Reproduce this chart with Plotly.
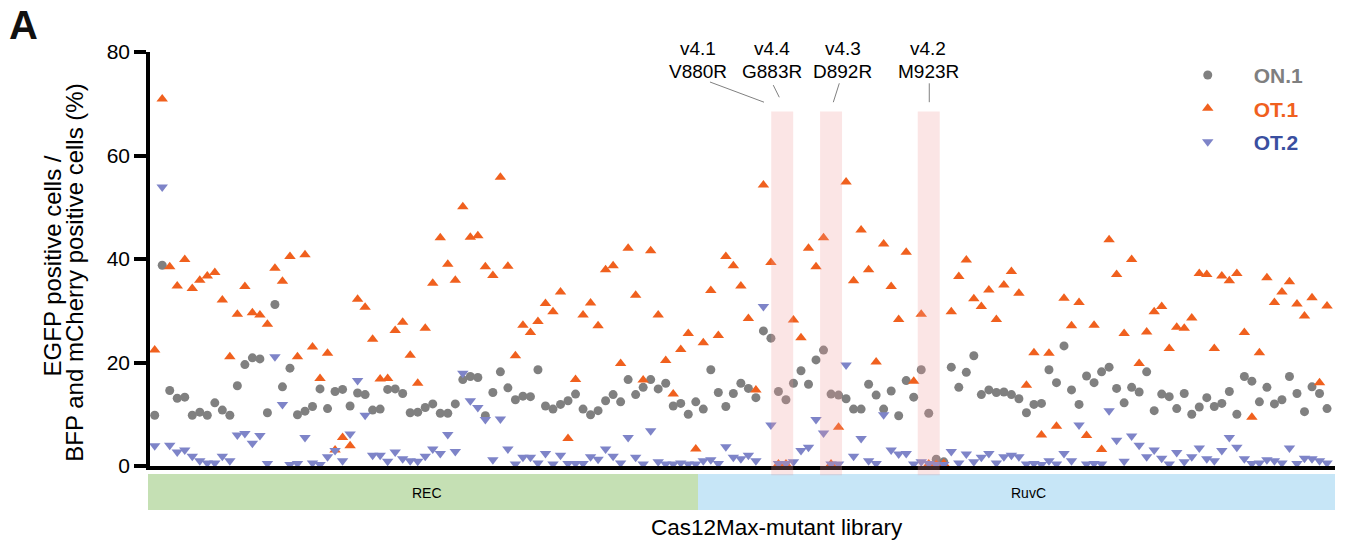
import plotly.graph_objects as go

# Editing efficiency per Cas12Max variant (percent), in library order
on1 = [9.8, 38.8, 14.6, 13.1, 13.3, 9.8, 10.4, 9.8, 12.2, 10.8, 9.8, 15.5, 19.6, 20.9, 20.7, 10.3,
       31.2, 15.3, 18.9, 9.9, 10.6, 11.5, 14.9, 11.1, 14.4, 14.8, 11.6, 14.1, 13.8, 10.8, 11.0, 14.8,
       14.9, 14.0, 10.3, 10.4,
       11.3, 12.0, 10.2, 10.2, 12.0, 16.7, 17.3, 17.1, 9.7, 14.2, 18.2, 15.1, 12.8, 13.5, 13.4, 18.6,
       11.6, 11.0, 11.9, 12.6, 13.9, 11.0, 9.9, 10.7, 12.6, 13.8, 12.4, 16.7, 13.8, 15.2, 16.7, 14.9,
       16.0, 11.6, 12.1, 10.0, 12.4, 11.0, 18.6,
       14.2, 11.5, 14.0, 16.0, 15.0, 13.2, 26.1, 24.7, 14.4, 12.8, 16.0, 18.4, 15.8, 20.5, 22.4, 13.9,
       13.7, 13.0, 11.0, 11.0, 15.8, 13.7, 11.0, 14.5, 9.7, 16.5, 13.3, 18.6, 10.2, 1.3, 0.8, 19.1,
       15.2, 18.1, 21.3, 13.8, 14.7, 14.2, 14.3, 13.8, 13.0,
       10.3, 11.9, 12.1, 18.6, 16.1, 23.2, 14.7, 11.9, 17.4, 16.1, 18.2, 19.1, 15.0, 12.2, 15.2, 14.3,
       18.2, 10.7, 13.9, 13.4, 11.1, 14.0, 10.0, 11.4, 13.2, 11.5, 12.1, 14.4, 10.0, 17.3, 16.4, 12.4,
       15.2, 12.0, 12.8, 17.3, 14.0, 10.5, 15.3, 14.0, 11.1]

ot1 = [22.4, 70.9, 38.5, 34.8, 39.9, 34.3, 35.9, 36.7, 37.4, 32.1, 21.1, 29.3, 34.7, 29.6, 29.2, 27.4,
       38.2, 35.7, 40.5, 21.1, 40.8, 23.0, 16.9, 21.8, 3.1, 5.5, 3.9, 32.2, 30.7, 24.5, 16.8, 16.9,
       26.2, 27.8, 21.4, 16.0,
       26.6, 35.3, 44.1, 39.0, 35.9, 50.1, 44.2, 44.5, 38.5, 36.8, 55.8, 38.6, 21.3, 27.2, 25.8, 27.9,
       31.4, 29.8, 33.6, 5.3, 16.7, 29.2, 31.5, 27.1, 37.9, 38.7, 19.8, 42.1, 33.0, 16.6, 41.6, 29.2,
       20.4, 13.9, 22.5, 25.6, 3.3, 23.8, 33.9,
       25.2, 40.5, 38.7, 34.8, 28.5, 14.7, 54.3, 39.3, 0.4, 0.4, 28.2, 24.8, 42.1, 38.5, 44.1, 0.4,
       7.5, 54.9, 35.8, 45.6, 37.9, 20.1, 42.9, 34.7, 28.3, 41.3, 16.4, 29.3, 0.4, 0.3, 0.5, 29.8,
       36.6, 39.8, 32.3, 30.8, 34.0, 28.3, 35.0, 37.6, 33.4,
       15.6, 21.9, 6.0, 21.8, 7.7, 32.4, 27.1, 31.6, 5.9, 27.2, 3.2, 43.7, 37.0, 25.6, 39.9, 19.8,
       25.9, 29.8, 30.8, 22.7, 26.8, 26.6, 28.6, 37.2, 37.0, 22.7, 36.7, 35.8, 37.2, 25.8, 9.4, 21.9,
       36.4, 31.6, 33.6, 35.6, 31.3, 29.0, 32.5, 16.1, 30.9]

ot2 = [3.9, 53.9, 4.0, 2.7, 3.1, 1.9, 1.0, 0.6, 0.6, 1.9, 1.0, 6.0, 6.3, 4.4, 5.9, 0.5,
       21.1, 11.9, 0.3, 0.5, 5.5, 0.6, 0.3, 1.8, 3.0, 1.0, 6.2, 16.5, 9.8, 2.1, 2.1, 0.9,
       2.7, 1.4, 1.0, 0.9,
       1.9, 3.3, 2.4, 6.1, 2.8, 17.9, 12.6, 11.3, 9.0, 1.2, 9.1, 3.3, 0.4, 1.7, 1.7, 0.6,
       2.4, 0.4, 2.1, 0.5, 0.5, 0.5, 1.8, 1.3, 3.3, 1.9, 0.6, 5.5, 1.7, 0.4, 6.8, 0.8,
       0.4, 0.4, 0.6, 0.4, 0.4, 1.0, 1.2,
       0.5, 3.7, 1.7, 1.4, 2.1, 1.0, 30.8, 7.9, 0.5, 0.5, 0.8, 3.0, 3.6, 9.0, 6.4, 0.4,
       0.4, 19.5, 1.9, 5.3, 1.0, 0.5, 9.9, 3.1, 2.3, 2.4, 0.4, 0.8, 0.5, 0.3, 0.3, 2.8,
       0.6, 2.3, 0.8, 1.7, 2.4, 0.6, 1.8, 2.1, 1.8,
       0.4, 0.5, 0.3, 1.0, 0.4, 2.4, 1.0, 7.9, 0.4, 0.5, 0.4, 10.7, 5.0, 0.9, 5.8, 4.0,
       1.8, 3.1, 1.5, 0.4, 2.6, 0.8, 1.8, 3.5, 1.4, 1.0, 3.0, 5.5, 3.6, 1.4, 0.5, 0.6,
       1.2, 1.0, 0.6, 3.5, 0.5, 1.5, 1.4, 1.0, 0.6]

variants = ["v4.1", "v4.4", "v4.3", "v4.2"]
mutations = ["V880R", "G883R", "D892R", "M923R"]
domains = ["REC", "RuvC"]
y_ticks = [0, 20, 40, 60, 80]

FONT = "Arial, 'Liberation Sans', Helvetica, sans-serif"
GRAY, ORANGE, BLUE = "#808080", "#F0601E", "#7E84C8"
LEG_GRAY, LEG_ORANGE, LEG_BLUE = "#7F7F7F", "#F0601E", "#3A4FA0"

positions = list(range(len(on1)))

fig = go.Figure()
series = [
    ("ON.1", on1, "circle", GRAY, LEG_GRAY, 9),
    ("OT.1", ot1, "triangle-up", ORANGE, LEG_ORANGE, 10),
    ("OT.2", ot2, "triangle-down", BLUE, LEG_BLUE, 10),
]
for name, vals, sym, col, lcol, size in series:
    fig.add_trace(go.Scatter(
        x=positions, y=vals, mode="markers", cliponaxis=False,
        name=f"<b><span style='color:{lcol}'>{name}</span></b>",
        legendgroup=name,
        marker=dict(symbol=sym, size=size, color=col, line=dict(width=0)),
    ))

shapes = []
# highlighted variants (pink columns over the points)
band_centres = [83.5, 90.0, 103.0]
for c in band_centres:
    shapes.append(dict(type="rect", xref="x", yref="paper", x0=c - 1.46, x1=c + 1.46,
                       y0=-0.0225, y1=0.856, fillcolor="rgba(240,150,150,0.25)",
                       line=dict(width=0), layer="above"))

# pointer lines from labels
pointers = [((73.89, 74.2), (81.08, 70.3)),
            ((82.31, 73.6), (83.11, 71.25)),
            ((91.1, 73.95), (90.3, 70.3)),
            ((103.07, 73.95), (103.07, 70.3))]
for (xa, ya), (xb, yb) in pointers:
    shapes.append(dict(type="line", xref="x", yref="y", x0=xa, y0=ya, x1=xb, y1=yb,
                       line=dict(color="#808080", width=1)))

# domain bars under the axis
W = 1185.0
dom_edges = [(-2, 548), (548, 1185)]
dom_cols = ["#C5E0B4", "#C7E6F7"]
for (a, b), col in zip(dom_edges, dom_cols):
    shapes.append(dict(type="rect", xref="paper", yref="paper", x0=a / W, x1=b / W,
                       y0=-0.1063, y1=-0.0193, fillcolor=col, line=dict(width=0), layer="below"))

annotations = []
label_x = [72.3, 82.15, 91.55, 102.95]
for lx, v, m in zip(label_x, variants, mutations):
    annotations.append(dict(x=lx, y=1.0085, xref="x", yref="paper", text=v, showarrow=False,
                            font=dict(size=19, color="black"), xanchor="center", yanchor="middle"))
    annotations.append(dict(x=lx, y=0.9517, xref="x", yref="paper", text=m, showarrow=False,
                            font=dict(size=19, color="black"), xanchor="center", yanchor="middle"))

for name, cx in zip(domains, [277.0, 878.0]):
    annotations.append(dict(x=cx / W, y=-0.0645, xref="paper", yref="paper", text=name,
                            showarrow=False, font=dict(size=14, color="black"),
                            xanchor="center", yanchor="middle"))

annotations.append(dict(x=627 / W, y=-0.1475, xref="paper", yref="paper",
                        text="Cas12Max-mutant library", showarrow=False,
                        font=dict(size=22.5, color="black"), xanchor="center", yanchor="middle"))

annotations.append(dict(x=-98 / W, y=0.482, xref="paper", yref="paper", textangle=-90,
                        text="EGFP positive cells /", showarrow=False,
                        font=dict(size=24, color="black"), xanchor="center", yanchor="middle"))
annotations.append(dict(x=-75 / W, y=0.467, xref="paper", yref="paper", textangle=-90,
                        text="BFP and mCherry positive cells (%)", showarrow=False,
                        font=dict(size=24, color="black"), xanchor="center", yanchor="middle"))

annotations.append(dict(x=-143 / W, y=1.066, xref="paper", yref="paper", text="<b>A</b>",
                        showarrow=False, font=dict(size=40, color="#111111"),
                        xanchor="left", yanchor="middle"))

fig.update_layout(
    width=1354, height=542,
    margin=dict(l=150, r=19, t=52, b=76),
    plot_bgcolor="white", paper_bgcolor="white",
    font=dict(family=FONT, color="black"),
    showlegend=True,
    legend=dict(x=0.8538, y=0.993, xanchor="left", yanchor="top",
                font=dict(size=21), bgcolor="rgba(0,0,0,0)",
                tracegroupgap=3, itemwidth=82, traceorder="grouped"),
    shapes=shapes,
    annotations=annotations,
)
fig.update_xaxes(range=[-0.625, 157.06], showline=True, linecolor="black", linewidth=3.5,
                 showticklabels=False, ticks="", showgrid=False, zeroline=False)
fig.update_yaxes(range=[0, 80], tickvals=y_ticks, showline=True, linecolor="black",
                 linewidth=3.5, ticks="outside", ticklen=12, tickwidth=3.5, tickcolor="black",
                 tickfont=dict(size=21, color="black"), showgrid=False, zeroline=False)

fig.write_html("out.html")
